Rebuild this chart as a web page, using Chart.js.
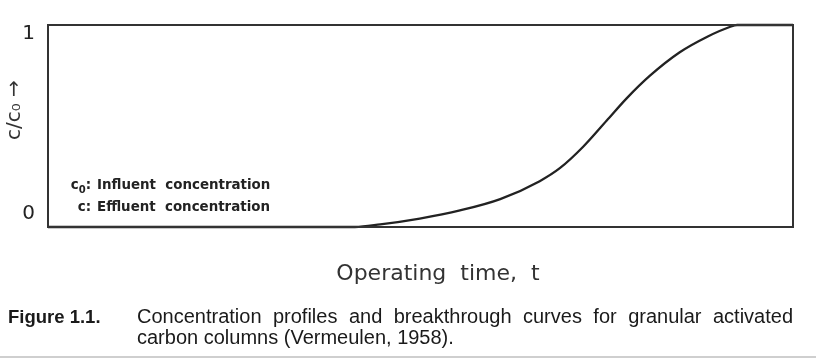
<!DOCTYPE html>
<html>
<head>
<meta charset="utf-8">
<script src="https://cdn.jsdelivr.net/npm/chart.js@4"></script>
<style>
  body { margin: 0; background: #fff; }
  #wrap { position: relative; width: 816px; height: 362px; overflow: hidden; }
  #chart { position: absolute; left: 0; top: 0; }
  .cap { position: absolute; font-family: "Liberation Sans", Arial, sans-serif; line-height: 21px; color: #1a1a1a; }
  #figno { left: 8px; top: 306px; font-weight: bold; font-size: 18.5px; }
  #figtext { left: 137px; top: 306px; width: 656px; font-size: 20px; text-align: justify; text-align-last: left; }
  #rule { position: absolute; left: 0; top: 356px; width: 816px; height: 2px; background: #cfcfcf; }
</style>
</head>
<body>
<div id="wrap">
  <canvas id="chart" width="816" height="362"></canvas>
  <div class="cap" id="figno">Figure 1.1.</div>
  <div class="cap" id="figtext">Concentration profiles and breakthrough curves for granular activated carbon columns (Vermeulen, 1958).</div>
  <div id="rule"></div>
</div>
<script>
// breakthrough curve (x in % of the time axis)
const timeValues = [0, 41.2, 44.6, 49.9, 55.3, 60.7, 66.0, 68.7, 71.8, 75.0, 77.7, 80.8, 84.8, 88.5, 91.5, 92.5, 100];
const concentrationValues = [0, 0, 0.013, 0.042, 0.082, 0.138, 0.227, 0.291, 0.396, 0.527, 0.638, 0.749, 0.865, 0.942, 0.99, 1.0, 1.0];
const yTickValues = [0.065, 0.955];
const yTickLabels = ['0', '1'];
// [symbol, subscript, rest]
const legendLines = [['c', '0', 'Influent  concentration'], ['c', '', 'Effluent  concentration']];

const points = timeValues.map((t, i) => ({ x: t, y: concentrationValues[i] }));

const framePlugin = {
    id: 'frame',
    afterDatasetsDraw(chart) {
        const a = chart.chartArea, ctx = chart.ctx;
        ctx.save();
        ctx.strokeStyle = '#333';
        ctx.lineWidth = 2;
        ctx.strokeRect(a.left, a.top, a.right - a.left, a.bottom - a.top);
        ctx.restore();
    }
};

const notePlugin = {
    id: 'note',
    afterDraw(chart) {
        const a = chart.chartArea, ctx = chart.ctx;
        const big = 'bold 13.4px "DejaVu Sans"', small = 'bold 10px "DejaVu Sans"';
        ctx.save();
        ctx.fillStyle = '#222';
        ctx.textBaseline = 'middle';
        legendLines.forEach((ln, i) => {
            const y = a.bottom - 41 + i * 22;
            let x = a.left + 43;
            // colon, then subscript, then symbol, right to left
            ctx.textAlign = 'right';
            ctx.font = big;
            ctx.fillText(':', x, y);
            x -= ctx.measureText(':').width;
            if (ln[1]) {
                ctx.font = small;
                ctx.fillText(ln[1], x, y + 4);
                x -= ctx.measureText(ln[1]).width;
            }
            ctx.font = big;
            ctx.fillText(ln[0], x, y);
            ctx.textAlign = 'left';
            ctx.fillText(ln[2], a.left + 49, y);
        });
        ctx.restore();
    }
};

new Chart(document.getElementById('chart'), {
    type: 'line',
    data: {
        datasets: [{
            data: points,
            borderColor: '#222',
            borderWidth: 2.3,
            pointRadius: 0,
            fill: false,
            cubicInterpolationMode: 'monotone',
            clip: false
        }]
    },
    options: {
        responsive: false,
        animation: false,
        layout: { padding: { top: 20, right: 23, left: 0, bottom: 0 } },
        plugins: { legend: { display: false }, tooltip: { enabled: false } },
        scales: {
            x: {
                type: 'linear', min: 0, max: 100,
                grid: { display: false, drawTicks: false },
                border: { display: false },
                ticks: { display: false },
                title: {
                    display: true,
                    text: '     Operating  time,  t',
                    color: '#333',
                    font: { family: 'DejaVu Sans', size: 22, weight: 'normal' },
                    padding: { top: 0, bottom: 75 }
                },
                afterFit(scale) { scale.height = 135; }
            },
            y: {
                min: 0, max: 1,
                grid: { display: false, drawTicks: false },
                border: { display: false },
                afterBuildTicks(scale) {
                    scale.ticks = yTickValues.map(v => ({ value: v }));
                },
                ticks: {
                    padding: 13,
                    color: '#222',
                    font: { family: 'DejaVu Sans', size: 20 },
                    callback: (v, i) => yTickLabels[i]
                },
                title: {
                    display: true,
                    text: '     c/c\u2080 \u2192',
                    color: '#333',
                    font: { family: 'DejaVu Sans', size: 20 },
                    padding: { top: 3, bottom: 0 }
                },
                afterFit(scale) { scale.width = 48; }
            }
        }
    },
    plugins: [framePlugin, notePlugin]
});
</script>
</body>
</html>
